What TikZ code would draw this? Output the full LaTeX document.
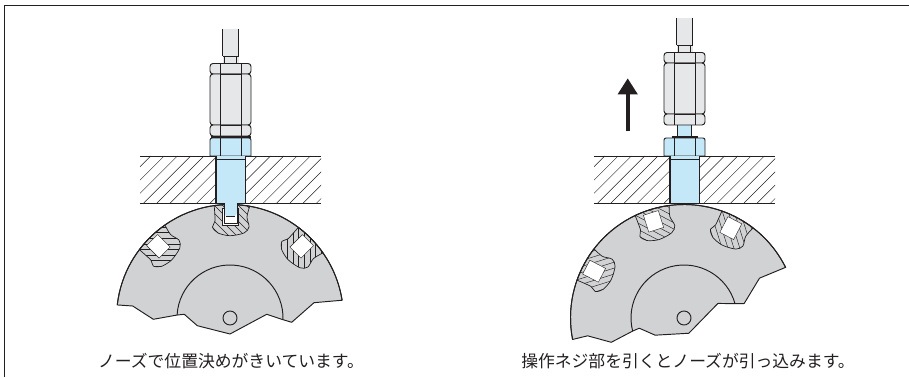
\documentclass[tikz,border=0pt]{standalone}
\usepackage{fontspec}
\setmainfont{Noto Sans CJK JP}
\usetikzlibrary{arrows.meta}
\usetikzlibrary{positioning}
\definecolor{ink}{HTML}{231F20}
\definecolor{discgray}{HTML}{D1D2D4}
\definecolor{rodgray}{HTML}{E6E7E8}
\definecolor{partblue}{HTML}{C5E8F8}
\tikzset{x=1pt, y=1pt, font=\fontsize{16.8}{16.8}\selectfont}
\tikzstyle{outline} = [draw=ink, line width=0.95pt, line join=round]
\tikzstyle{heavy} = [draw=ink, line width=1.5pt]
\tikzstyle{hatch} = [draw=ink, line width=0.45pt]
\tikzstyle{steel} = [outline, fill=rodgray]
\tikzstyle{brass} = [outline, fill=partblue]
\tikzstyle{caption} = [text=ink, anchor=center, inner sep=0pt]
\newcommand{\pocketpath}{plot [smooth] coordinates {(98:113.5) (-15,97) (-17.5,91) (-12,85) (0,82.3) (14,85) (19,91) (17,101) (80:113.5)} arc (80:98:113.5) -- cycle}
\newcommand{\pocket}[1]{
	\begin{scope}[rotate=#1]
		\begin{scope}
			\clip \pocketpath;
			\foreach \i in {-60,-52,...,45} {
				\draw [hatch] (\i,125) -- ++(50,-50);
			}
		\end{scope}
		\draw [outline, line width=0.7pt] \pocketpath;
		\draw [draw=ink, line width=0.4pt, fill=white] (-7.8,92.5) rectangle (7.8,110.2);
	\end{scope}
}
\newcommand{\cutter}[2]{
	\begin{scope}[shift={(#1,59)}, rotate=#2]
		\draw [outline, fill=discgray] (173.4:113.5) arc (173.4:9:113.5) -- (84,15.3) -- (61.7,-4.3) -- (54,-2) -- (36.7,3.7) -- (0,-16) -- (-32.7,-7.7) -- (-45.7,3.7) -- (-52.7,3) -- (-76.7,-1.3) -- (-97.3,12) -- cycle;
		\pocket{45}
		\pocket{0}
		\pocket{-45}
		\draw [outline] (173.4:113.5) arc (173.4:9:113.5);
		\draw [outline] (177:53) arc (177:-2:53);
		\draw [outline] (0,0) circle (7);
	\end{scope}
}
\newcommand{\plate}[1]{
	\begin{scope}[shift={(#1,0)}]
		\begin{scope}
			\clip (-90.5,174) rectangle (90.5,221);
			\foreach \i in {-140,-126.7,...,95} {
				\draw [hatch] (\i,174) -- ++(47,47);
			}
		\end{scope}
		\draw [outline] (-90.5,221) -- (90.5,221);
		\draw [outline] (-90.5,174) -- (90.5,174);
		\draw [brass] (-20.5,221) -- (-20.5,236) [rounded corners=2pt] -- (-20.5,239) -- (20.5,239) [sharp corners] -- (20.5,221) -- cycle;
		\draw [outline] (-10.5,221) -- (-10.5,239);
		\draw [outline] (10.5,221) -- (10.5,239);
		\fill [partblue] (-14.5,174) rectangle (15,221);
		\draw [outline, line width=0.5pt] (-14,217.5) -- (15,217.5);
		\draw [heavy] (-14.5,221) -- (-14.5,173.5) -- (15,173.5) -- (15,221);
	\end{scope}
}
\newcommand{\locknut}[2]{
	\begin{scope}[shift={(#1,#2)}]
		\fill [rodgray] (-8,313.5) rectangle (8,348);
		\draw [outline] (-8,321) -- (-8,348);
		\draw [outline] (8,321) -- (8,348);
		\draw [outline] (-8,321) -- (8,321);
		\draw [outline] (-6,313.5) -- (-6,321);
		\draw [outline] (6,313.5) -- (6,321);
		\draw [steel, rounded corners=3pt] (-20.5,303) rectangle (20.5,313.5);
		\draw [steel, rounded corners=3pt] (-20.5,252) rectangle (20.5,303);
		\draw [steel, rounded corners=3pt] (-20.5,241) rectangle (20.5,252);
		\draw [outline] (-10.5,241) -- (-10.5,313.5);
		\draw [outline] (10.5,241) -- (10.5,313.5);
		\draw [outline] (-10.5,303) -- (10.5,303);
		\draw [outline] (-10.5,252) -- (10.5,252);
	\end{scope}
}
\begin{document}
\begin{tikzpicture}
	\useasboundingbox (0,0) rectangle (909,377);

	\draw [draw=ink, line width=1.6pt] (4.5,0) -- (4.5,371.5) -- (909,371.5);

	% left view
	\cutter{230}{0}
	\plate{230.5}
	\begin{scope}[shift={(230.5,0)}]
		\fill [white] (-6.5,173) rectangle (6.5,154);
		\fill [partblue] (-6.5,174) -- (-6.5,164) -- (-4.5,161) -- (4.5,161) -- (6.5,164) -- (6.5,174) -- cycle;
		\draw [outline] (-6.5,174) -- (-6.5,154) -- (6.5,154) -- (6.5,174);
		\draw [outline] (-4.5,160.5) -- (4.5,160.5);
	\end{scope}
	\locknut{230.5}{0}
	\draw [heavy] (210.5,240) -- (250.5,240);
	\node [caption] (cap_nose) at (231,16) {ノーズで位置決めがきいています。};

	% right view
	\cutter{684}{17.5}
	\plate{684.5}
	\draw [brass] (677.5,240) rectangle (691.5,252.5);
	\draw [heavy] (671.5,240) -- (697.5,240);
	\locknut{684.5}{11}

	\coordinate (pull_tail) at (627.7,245.5);
	\coordinate (pull_tip) at (627.7,298.7);
	\draw [-{Triangle[width=19pt,length=16pt]}, draw=ink, fill=ink, line width=4pt] (pull_tail) -- (pull_tip);

	\node [caption] (cap_pull) at (688,16) {操作ネジ部を引くとノーズが引っ込みます。};
\end{tikzpicture}
\end{document}
